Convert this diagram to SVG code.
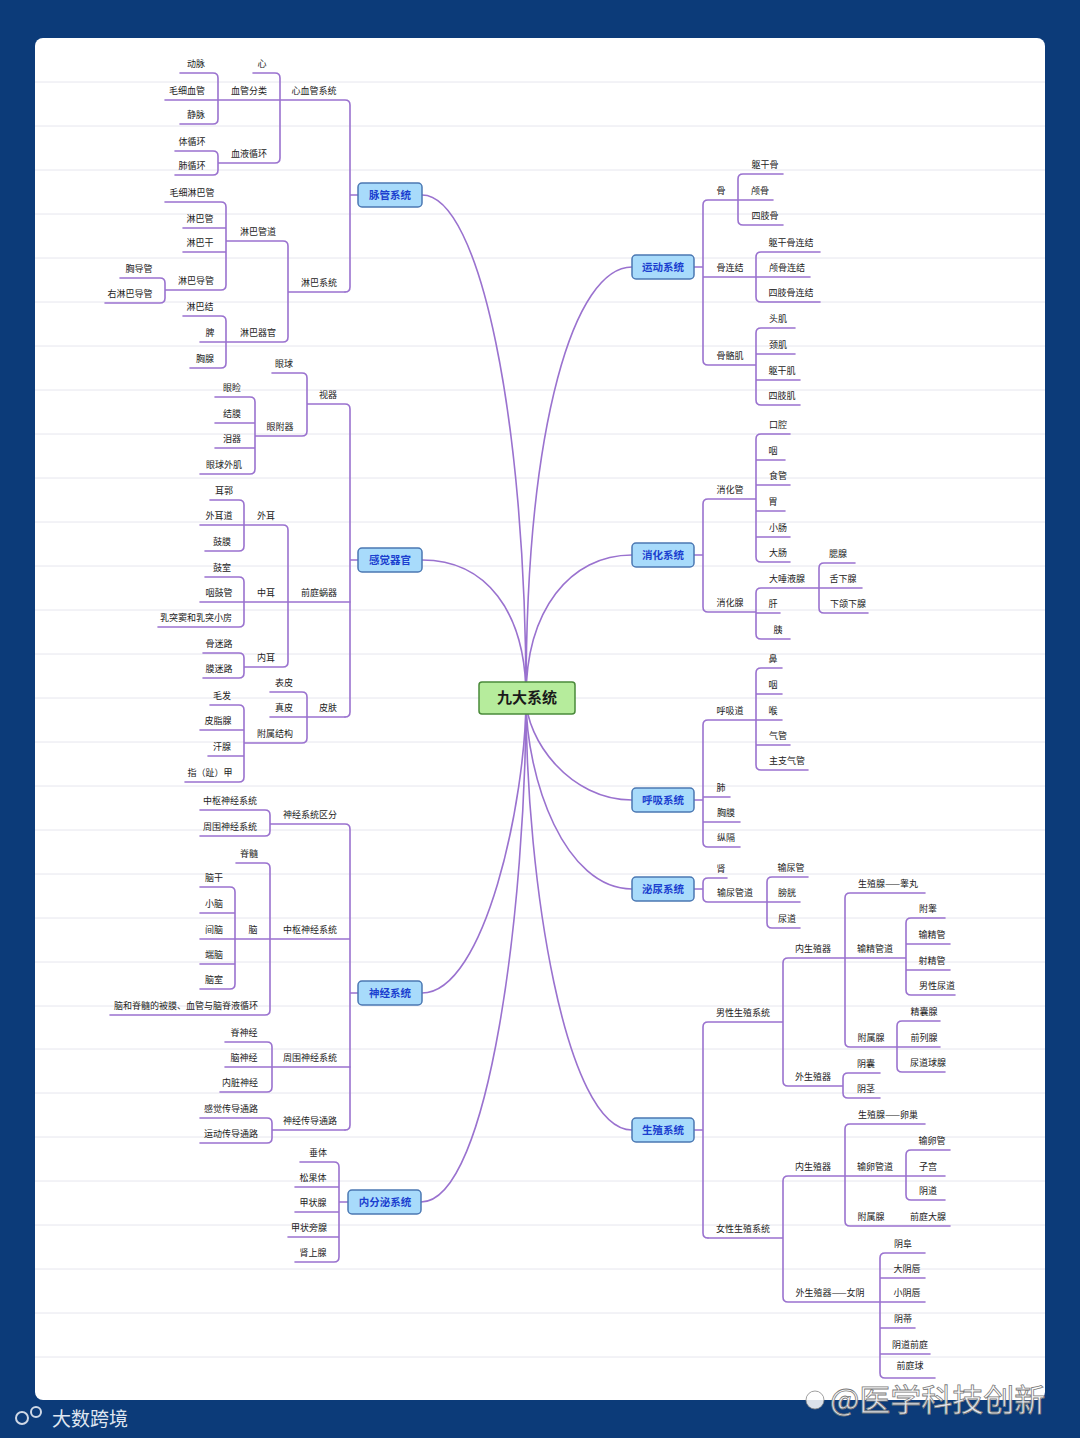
<svg xmlns="http://www.w3.org/2000/svg" width="1080" height="1438" viewBox="0 0 1080 1438">
<style>
.t{font-family:"Noto Sans CJK SC","Noto Sans",sans-serif;font-size:9px;fill:#222;text-anchor:middle}
.ln{stroke:#9a72cf;stroke-width:1.6;fill:none;stroke-linecap:round}
.mn rect{fill:#a8dbfb;stroke:#4b78b3;stroke-width:1.5}
.mn text{font-family:"Noto Sans CJK SC","Noto Sans",sans-serif;font-size:10.5px;font-weight:bold;fill:#1b3fcf;text-anchor:middle}
</style>
<rect x="0" y="0" width="1080" height="1438" fill="#0c3b79"/>
<rect x="35" y="38" width="1010" height="1362" rx="8" fill="#ffffff"/>
<g id="rules" stroke="#e6e6ee" stroke-width="1" fill="none">
<path d="M35 82H1045M35 126H1045M35 170H1045M35 214H1045M35 258H1045M35 302H1045M35 346H1045M35 390H1045M35 434H1045M35 478H1045M35 522H1045M35 566H1045M35 610H1045M35 654H1045M35 698H1045M35 742H1045M35 786H1045M35 830H1045M35 874H1045M35 918H1045M35 962H1045M35 1006H1045M35 1049H1045M35 1093H1045M35 1137H1045M35 1181H1045M35 1225H1045M35 1269H1045M35 1313H1045M35 1357H1045"/>
</g>
<g id="connectors" class="ln">
<path d="M422 195C480 195 526 420 526 698"/>
<path d="M422 560C485 560 526 610 526 698"/>
<path d="M422 993C485 993 526 800 526 698"/>
<path d="M421 1202C490 1202 526 900 526 698"/>
<path d="M632 267C575 267 526 420 526 698"/>
<path d="M632 555C570 555 526 610 526 698"/>
<path d="M632 800C570 800 526 740 526 698"/>
<path d="M632 889C565 889 526 780 526 698"/>
<path d="M632 1130C565 1130 526 880 526 698"/>
<path d="M350 195H358M345 100Q350 100 350 105V287Q350 292 345 292M280 100H345M275 73Q280 73 280 78V158Q280 163 275 163M253 73H275M218 100H280M213 73Q218 73 218 78V119Q218 124 213 124M180 73H213M165 100H218M180 124H213M218 163H275M213 151Q218 151 218 156V170Q218 175 213 175M175 151H213M175 175H213"/>
<path d="M288 292H345M283 241Q288 241 288 246V337Q288 342 283 342M226 241H283M221 202Q226 202 226 207V285Q226 290 221 290M165 202H221M183 228H226M183 252H226M165 290H221M160 278Q165 278 165 283V298Q165 303 160 303M120 278H160M105 303H160M226 342H283M221 316Q226 316 226 321V363Q226 368 221 368M183 316H221M200 342H226M190 368H221"/>
<path d="M350 560H358M345 404Q350 404 350 409V712Q350 717 345 717M307 404H345M302 373Q307 373 307 378V431Q307 436 302 436M272 373H302M255 436H302M250 397Q255 397 255 402V469Q255 474 250 474M215 397H250M215 423H255M215 448H255M200 474H250"/>
<path d="M288 602H350M283 525Q288 525 288 530V662Q288 667 283 667M244 525H283M239 500Q244 500 244 505V546Q244 551 239 551M210 500H239M200 525H244M205 551H239M244 602H288M239 577Q244 577 244 582V622Q244 627 239 627M205 577H239M200 602H244M158 627H239M244 667H283M239 653Q244 653 244 658V673Q244 678 239 678M203 653H239M203 678H239"/>
<path d="M307 717H345M302 692Q307 692 307 697V738Q307 743 302 743M270 692H302M270 717H307M244 743H302M239 705Q244 705 244 710V777Q244 782 239 782M210 705H239M200 730H244M208 756H244M185 782H239"/>
<path d="M350 993H358M345 824Q350 824 350 829V1125Q350 1130 345 1130M270 824H345M265 810Q270 810 270 815V831Q270 836 265 836M200 810H265M200 836H265M270 939H350M265 863Q270 863 270 868V1010Q270 1015 265 1015M236 863H265M235 939H270M230 887Q235 887 235 892V984Q235 989 230 989M200 887H230M200 913H235M200 939H235M200 964H235M200 989H230M110 1015H265"/>
<path d="M272 1067H350M267 1042Q272 1042 272 1047V1087Q272 1092 267 1092M225 1042H267M225 1067H272M220 1092H267M272 1130H345M267 1118Q272 1118 272 1123V1138Q272 1143 267 1143M200 1118H267M200 1143H267"/>
<path d="M339 1202H348M334 1162Q339 1162 339 1167V1257Q339 1262 334 1262M300 1162H334M295 1187H339M295 1212H339M288 1237H339M295 1262H334"/>
<path d="M694 267H703M708 200Q703 200 703 205V360Q703 365 708 365M708 200H738M743 174Q738 174 738 179V220Q738 225 743 225M743 174H783M738 200H773M743 225H783M703 277H756M761 252Q756 252 756 257V297Q756 302 761 302M761 252H820M756 277H810M761 302H820M708 365H756M761 328Q756 328 756 333V400Q756 405 761 405M761 328H795M756 354H795M756 380H800M761 405H800"/>
<path d="M694 555H703M708 499Q703 499 703 504V607Q703 612 708 612M708 499H756M761 434Q756 434 756 439V557Q756 562 761 562M761 434H790M756 460H785M756 485H790M756 511H785M756 537H790M761 562H790M708 612H756M761 588Q756 588 756 593V634Q756 639 761 639M761 588H819M824 563Q819 563 819 568V608Q819 613 824 613M824 563H855M819 588H862M824 613H868M756 613H780M761 639H790"/>
<path d="M694 800H703M708 720Q703 720 703 725V842Q703 847 708 847M708 720H756M761 668Q756 668 756 673V765Q756 770 761 770M761 668H782M756 694H782M756 720H782M756 745H790M761 770H808M703 797H730M703 822H740M708 847H740"/>
<path d="M694 889H703M708 878Q703 878 703 883V897Q703 902 708 902M708 878H727M708 902H767M772 877Q767 877 767 882V923Q767 928 772 928M772 877H808M767 902H800M772 928H800"/>
<path d="M694 1130H703M708 1022Q703 1022 703 1027V1233Q703 1238 708 1238M708 1022H783M788 958Q783 958 783 963V1081Q783 1086 788 1086M788 958H845M850 893Q845 893 845 898V1042Q845 1047 850 1047M850 893H925M845 958H906M911 918Q906 918 906 923V990Q906 995 911 995M911 918H945M906 944H950M906 970H950M911 995H955M850 1047H897M902 1021Q897 1021 897 1026V1067Q897 1072 902 1072M902 1021H940M897 1047H940M902 1072H945M788 1086H843M848 1073Q843 1073 843 1078V1093Q843 1098 848 1098M848 1073H880M848 1098H880"/>
<path d="M708 1238H783M788 1176Q783 1176 783 1181V1297Q783 1302 788 1302M788 1176H845M850 1124Q845 1124 845 1129V1221Q845 1226 850 1226M850 1124H925M845 1176H906M911 1150Q906 1150 906 1155V1195Q906 1200 911 1200M911 1150H950M906 1176H945M911 1200H945M850 1226H950M788 1302H880M885 1253Q880 1253 880 1258V1373Q880 1378 885 1378M885 1253H925M880 1278H925M880 1302H925M880 1328H915M880 1354H930M885 1378H935"/>
</g>
<g id="center">
<rect x="479" y="682" width="96" height="32" rx="3" fill="#b6ec9c" stroke="#4a8a3a" stroke-width="1.5"/>
<text x="527" y="703" font-family="Noto Sans CJK SC,sans-serif" font-size="15" font-weight="bold" fill="#1a1a1a" text-anchor="middle">九大系统</text>
</g>
<g id="m-maiguan" class="mn"><rect x="358" y="183" width="64" height="24" rx="4"/><text x="390" y="199">脉管系统</text></g>
<g id="m-ganjue" class="mn"><rect x="358" y="548" width="64" height="24" rx="4"/><text x="390" y="564">感觉器官</text></g>
<g id="m-shenjing" class="mn"><rect x="358" y="981" width="64" height="24" rx="4"/><text x="390" y="997">神经系统</text></g>
<g id="m-neifenmi" class="mn"><rect x="348" y="1190" width="73" height="24" rx="4"/><text x="385" y="1206">内分泌系统</text></g>
<g id="m-yundong" class="mn"><rect x="632" y="255" width="62" height="24" rx="4"/><text x="663" y="271">运动系统</text></g>
<g id="m-xiaohua" class="mn"><rect x="632" y="543" width="62" height="24" rx="4"/><text x="663" y="559">消化系统</text></g>
<g id="m-huxi" class="mn"><rect x="632" y="788" width="62" height="24" rx="4"/><text x="663" y="804">呼吸系统</text></g>
<g id="m-miniao" class="mn"><rect x="632" y="877" width="62" height="24" rx="4"/><text x="663" y="893">泌尿系统</text></g>
<g id="m-shengzhi" class="mn"><rect x="632" y="1118" width="62" height="24" rx="4"/><text x="663" y="1134">生殖系统</text></g>
<g id="labels" class="t">
<g id="a01"><text x="314" y="94">心血管系统</text></g>
<g id="a02"><text x="262" y="67">心</text></g>
<g id="a03"><text x="249" y="94">血管分类</text></g>
<g id="a04"><text x="196" y="67">动脉</text></g>
<g id="a05"><text x="187" y="94">毛细血管</text></g>
<g id="a06"><text x="196" y="118">静脉</text></g>
<g id="a07"><text x="249" y="157">血液循环</text></g>
<g id="a08"><text x="192" y="145">体循环</text></g>
<g id="a09"><text x="192" y="169">肺循环</text></g>
<g id="a10"><text x="319" y="286">淋巴系统</text></g>
<g id="a11"><text x="258" y="235">淋巴管道</text></g>
<g id="a12"><text x="192" y="196">毛细淋巴管</text></g>
<g id="a13"><text x="200" y="222">淋巴管</text></g>
<g id="a14"><text x="200" y="246">淋巴干</text></g>
<g id="a15"><text x="196" y="284">淋巴导管</text></g>
<g id="a16"><text x="139" y="272">胸导管</text></g>
<g id="a17"><text x="130" y="297">右淋巴导管</text></g>
<g id="a18"><text x="258" y="336">淋巴器官</text></g>
<g id="a19"><text x="200" y="310">淋巴结</text></g>
<g id="a20"><text x="210" y="336">脾</text></g>
<g id="a21"><text x="205" y="362">胸腺</text></g>
<g id="b01"><text x="328" y="398">视器</text></g>
<g id="b02"><text x="284" y="367">眼球</text></g>
<g id="b03"><text x="280" y="430">眼附器</text></g>
<g id="b04"><text x="232" y="391">眼睑</text></g>
<g id="b05"><text x="232" y="417">结膜</text></g>
<g id="b06"><text x="232" y="442">泪器</text></g>
<g id="b07"><text x="224" y="468">眼球外肌</text></g>
<g id="b08"><text x="319" y="596">前庭蜗器</text></g>
<g id="b09"><text x="266" y="519">外耳</text></g>
<g id="b10"><text x="224" y="494">耳郭</text></g>
<g id="b11"><text x="219" y="519">外耳道</text></g>
<g id="b12"><text x="222" y="545">鼓膜</text></g>
<g id="b13"><text x="266" y="596">中耳</text></g>
<g id="b14"><text x="222" y="571">鼓室</text></g>
<g id="b15"><text x="219" y="596">咽鼓管</text></g>
<g id="b16"><text x="196" y="621">乳突窦和乳突小房</text></g>
<g id="b17"><text x="266" y="661">内耳</text></g>
<g id="b18"><text x="219" y="647">骨迷路</text></g>
<g id="b19"><text x="219" y="672">膜迷路</text></g>
<g id="b20"><text x="328" y="711">皮肤</text></g>
<g id="b21"><text x="284" y="686">表皮</text></g>
<g id="b22"><text x="284" y="711">真皮</text></g>
<g id="b23"><text x="275" y="737">附属结构</text></g>
<g id="b24"><text x="222" y="699">毛发</text></g>
<g id="b25"><text x="218" y="724">皮脂腺</text></g>
<g id="b26"><text x="222" y="750">汗腺</text></g>
<g id="b27"><text x="210" y="776">指（趾）甲</text></g>
<g id="c01"><text x="310" y="818">神经系统区分</text></g>
<g id="c02"><text x="230" y="804">中枢神经系统</text></g>
<g id="c03"><text x="230" y="830">周围神经系统</text></g>
<g id="c04"><text x="310" y="933">中枢神经系统</text></g>
<g id="c05"><text x="249" y="857">脊髓</text></g>
<g id="c06"><text x="253" y="933">脑</text></g>
<g id="c07"><text x="214" y="881">脑干</text></g>
<g id="c08"><text x="214" y="907">小脑</text></g>
<g id="c09"><text x="214" y="933">间脑</text></g>
<g id="c10"><text x="214" y="958">端脑</text></g>
<g id="c11"><text x="214" y="983">脑室</text></g>
<g id="c12"><text x="186" y="1009">脑和脊髓的被膜、血管与脑脊液循环</text></g>
<g id="c13"><text x="310" y="1061">周围神经系统</text></g>
<g id="c14"><text x="244" y="1036">脊神经</text></g>
<g id="c15"><text x="244" y="1061">脑神经</text></g>
<g id="c16"><text x="240" y="1086">内脏神经</text></g>
<g id="c17"><text x="310" y="1124">神经传导通路</text></g>
<g id="c18"><text x="231" y="1112">感觉传导通路</text></g>
<g id="c19"><text x="231" y="1137">运动传导通路</text></g>
<g id="d01"><text x="318" y="1156">垂体</text></g>
<g id="d02"><text x="313" y="1181">松果体</text></g>
<g id="d03"><text x="313" y="1206">甲状腺</text></g>
<g id="d04"><text x="309" y="1231">甲状旁腺</text></g>
<g id="d05"><text x="313" y="1256">肾上腺</text></g>
<g id="e01"><text x="721" y="194">骨</text></g>
<g id="e02"><text x="765" y="168">躯干骨</text></g>
<g id="e03"><text x="760" y="194">颅骨</text></g>
<g id="e04"><text x="765" y="219">四肢骨</text></g>
<g id="e05"><text x="730" y="271">骨连结</text></g>
<g id="e06"><text x="791" y="246">躯干骨连结</text></g>
<g id="e07"><text x="787" y="271">颅骨连结</text></g>
<g id="e08"><text x="791" y="296">四肢骨连结</text></g>
<g id="e09"><text x="730" y="359">骨骼肌</text></g>
<g id="e10"><text x="778" y="322">头肌</text></g>
<g id="e11"><text x="778" y="348">颈肌</text></g>
<g id="e12"><text x="782" y="374">躯干肌</text></g>
<g id="e13"><text x="782" y="399">四肢肌</text></g>
<g id="f01"><text x="730" y="493">消化管</text></g>
<g id="f02"><text x="778" y="428">口腔</text></g>
<g id="f03"><text x="773" y="454">咽</text></g>
<g id="f04"><text x="778" y="479">食管</text></g>
<g id="f05"><text x="773" y="505">胃</text></g>
<g id="f06"><text x="778" y="531">小肠</text></g>
<g id="f07"><text x="778" y="556">大肠</text></g>
<g id="f08"><text x="730" y="606">消化腺</text></g>
<g id="f09"><text x="787" y="582">大唾液腺</text></g>
<g id="f10"><text x="838" y="557">腮腺</text></g>
<g id="f11"><text x="843" y="582">舌下腺</text></g>
<g id="f12"><text x="848" y="607">下颌下腺</text></g>
<g id="f13"><text x="773" y="607">肝</text></g>
<g id="f14"><text x="778" y="633">胰</text></g>
<g id="g01"><text x="730" y="714">呼吸道</text></g>
<g id="g02"><text x="773" y="662">鼻</text></g>
<g id="g03"><text x="773" y="688">咽</text></g>
<g id="g04"><text x="773" y="714">喉</text></g>
<g id="g05"><text x="778" y="739">气管</text></g>
<g id="g06"><text x="787" y="764">主支气管</text></g>
<g id="g07"><text x="721" y="791">肺</text></g>
<g id="g08"><text x="726" y="816">胸膜</text></g>
<g id="g09"><text x="726" y="841">纵隔</text></g>
<g id="h01"><text x="721" y="872">肾</text></g>
<g id="h02"><text x="735" y="896">输尿管道</text></g>
<g id="h03"><text x="791" y="871">输尿管</text></g>
<g id="h04"><text x="787" y="896">膀胱</text></g>
<g id="h05"><text x="787" y="922">尿道</text></g>
<g id="i01"><text x="743" y="1016">男性生殖系统</text></g>
<g id="i02"><text x="813" y="952">内生殖器</text></g>
<g id="i03"><text x="888" y="887">生殖腺——睾丸</text></g>
<g id="i04"><text x="875" y="952">输精管道</text></g>
<g id="i05"><text x="928" y="912">附睾</text></g>
<g id="i06"><text x="932" y="938">输精管</text></g>
<g id="i07"><text x="932" y="964">射精管</text></g>
<g id="i08"><text x="937" y="989">男性尿道</text></g>
<g id="i09"><text x="871" y="1041">附属腺</text></g>
<g id="i10"><text x="924" y="1015">精囊腺</text></g>
<g id="i11"><text x="924" y="1041">前列腺</text></g>
<g id="i12"><text x="928" y="1066">尿道球腺</text></g>
<g id="i13"><text x="813" y="1080">外生殖器</text></g>
<g id="i14"><text x="866" y="1067">阴囊</text></g>
<g id="i15"><text x="866" y="1092">阴茎</text></g>
<g id="j01"><text x="743" y="1232">女性生殖系统</text></g>
<g id="j02"><text x="813" y="1170">内生殖器</text></g>
<g id="j03"><text x="888" y="1118">生殖腺——卵巢</text></g>
<g id="j04"><text x="875" y="1170">输卵管道</text></g>
<g id="j05"><text x="932" y="1144">输卵管</text></g>
<g id="j06"><text x="928" y="1170">子宫</text></g>
<g id="j07"><text x="928" y="1194">阴道</text></g>
<g id="j08"><text x="871" y="1220">附属腺</text></g>
<g id="j09"><text x="928" y="1220">前庭大腺</text></g>
<g id="j10"><text x="830" y="1296">外生殖器——女阴</text></g>
<g id="j11"><text x="903" y="1247">阴阜</text></g>
<g id="j12"><text x="907" y="1272">大阴唇</text></g>
<g id="j13"><text x="907" y="1296">小阴唇</text></g>
<g id="j14"><text x="903" y="1322">阴蒂</text></g>
<g id="j15"><text x="910" y="1348">阴道前庭</text></g>
<g id="j16"><text x="910" y="1369">前庭球</text></g>
</g>
<g id="watermarks">
<circle cx="22" cy="1418" r="6" fill="none" stroke="#cfd8e6" stroke-width="2"/>
<circle cx="36" cy="1412" r="5" fill="none" stroke="#cfd8e6" stroke-width="2"/>
<text x="52" y="1426" font-family="Noto Sans CJK SC,sans-serif" font-size="19" fill="#dfe6f0">大数跨境</text>
<circle cx="815" cy="1400" r="9" fill="#ffffff" fill-opacity="0.85" stroke="#888" stroke-width="0.8"/>
<text x="830" y="1411" font-family="Noto Sans CJK SC,sans-serif" font-size="31" fill="#ffffff" fill-opacity="0.9" stroke="#7a7a7a" stroke-width="0.8">@医学科技创新</text>
</g>
</svg>
